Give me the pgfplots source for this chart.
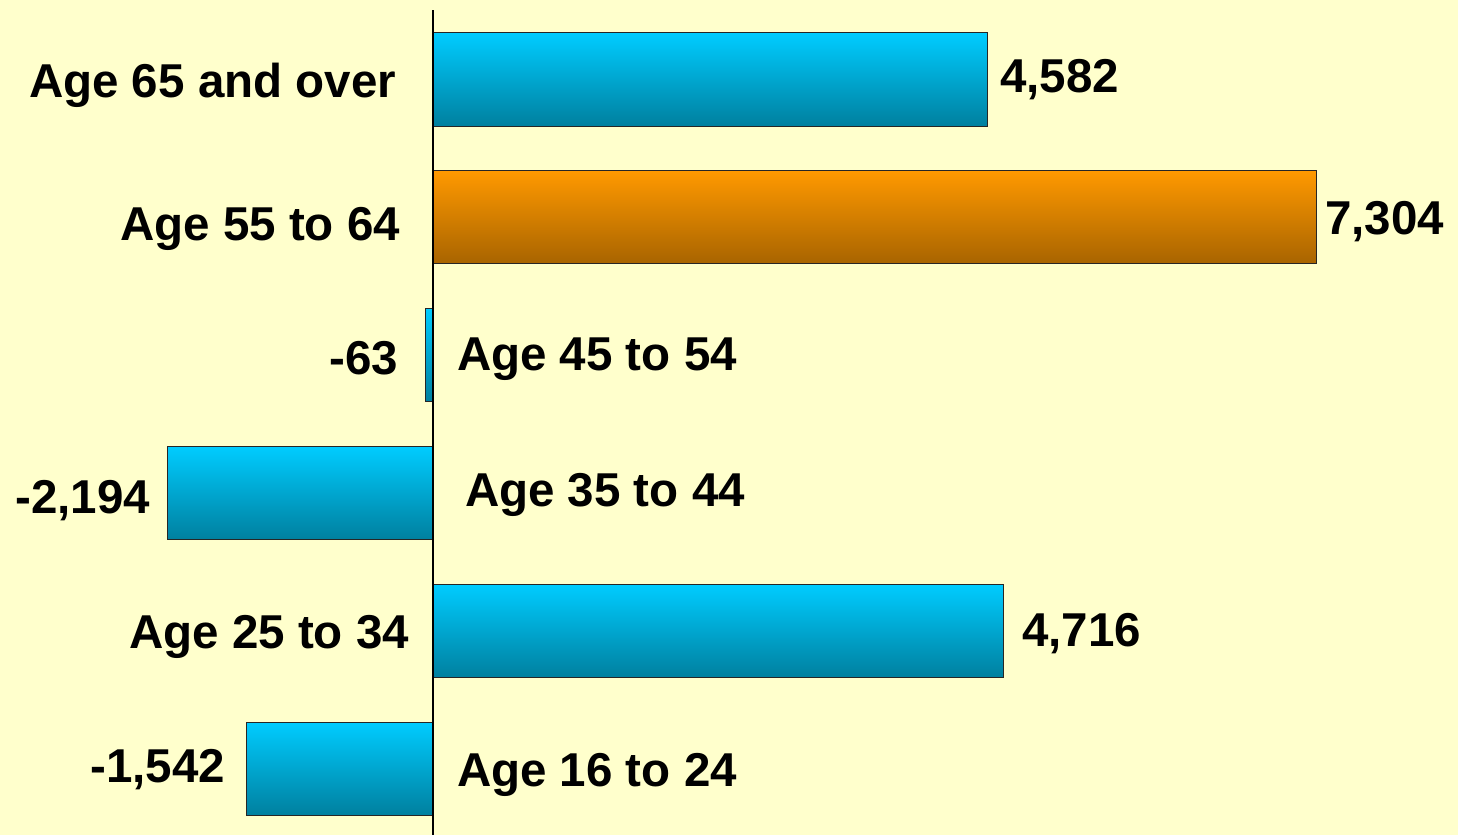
\documentclass[border=0pt]{standalone}
\usepackage{pgfplots}
\pgfplotsset{compat=1.18}
\usepackage{fontspec}
\setmainfont{Liberation Sans}
\definecolor{bg}{HTML}{FFFFCC}
\definecolor{cyantop}{HTML}{00CCFF}
\definecolor{cyanbot}{HTML}{00809F}
\definecolor{orgtop}{HTML}{FF9900}
\definecolor{orgbot}{HTML}{A86400}
\tikzset{lab/.style={font=\fontsize{23.75bp}{28bp}\selectfont\bfseries, inner sep=0pt, outer sep=0pt}}
\pgfplotsset{cbar/.style={xbar, bar shift=0pt, bar width=0.675, draw=black!85, line width=0.5bp,
  top color=cyantop, bottom color=cyanbot}}
\begin{document}
\begin{tikzpicture}
\begin{axis}[
  scale only axis, width=729bp, height=417.5bp,
  xmin=-3579, xmax=8471, ymin=-0.4826, ymax=5.577,
  axis line style={draw=none}, ticks=none,
  axis background/.style={fill=bg},
  clip=false,
]
\addplot[cbar] coordinates {(-1542,0)};
\addplot[cbar] coordinates {(4716,1)};
\addplot[cbar] coordinates {(-2194,2)};
\addplot[cbar] coordinates {(-63,3)};
\addplot[xbar, bar shift=0pt, bar width=0.675, draw=black!85, line width=0.5bp,
  top color=orgtop, bottom color=orgbot]
  coordinates {(7304,4)};
\addplot[cbar] coordinates {(4582,5)};
\draw[black, line width=1bp] (axis cs:0,5.504) -- (axis cs:0,-0.4826);
% category labels
\node[lab, anchor=base east] at (axis cs:-305.8,4.872) {Age 65 and over};
\node[lab, anchor=base east] at (axis cs:-272.7,3.835) {Age 55 to 64};
\node[lab, anchor=base west] at (axis cs:198.3,2.885) {Age 45 to 54};
\node[lab, anchor=base west] at (axis cs:264.5,1.898) {Age 35 to 44};
\node[lab, anchor=base east] at (axis cs:-198.3,0.874) {Age 25 to 34};
\node[lab, anchor=base west] at (axis cs:198.3,-0.134) {Age 16 to 24};
% value labels
\node[lab, anchor=base west] at (axis cs:4686,4.908) {4,582};
\node[lab, anchor=base west] at (axis cs:7372,3.872) {7,304};
\node[lab, anchor=base east] at (axis cs:-289.3,2.860) {-63};
\node[lab, anchor=base east] at (axis cs:-2339,1.854) {-2,194};
\node[lab, anchor=base west] at (axis cs:4868,0.882) {4,716};
\node[lab, anchor=base east] at (axis cs:-1719,-0.105) {-1,542};
\end{axis}
\end{tikzpicture}
\end{document}
